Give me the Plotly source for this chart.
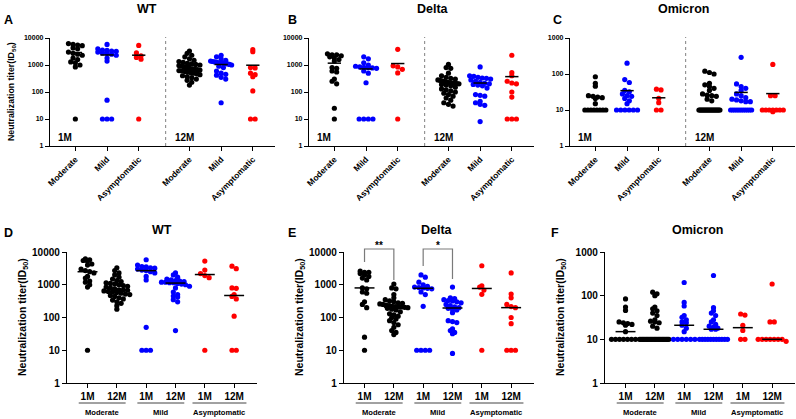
import numpy as np
import plotly.graph_objects as go

# ---------------- data (ID50 titers) ----------------
WT_MOD_1M = [6200, 5800, 5500, 5200, 4300, 4000, 3000, 2700, 2500, 2300, 1800, 1600, 1300, 1200, 1000, 850, 10]
WT_MOD_12M = [3300, 2700, 2300, 2000, 1700, 1500, 1350, 1250, 1150, 1100, 1050, 1000, 950, 900, 850, 800, 750, 700,
              700, 680, 650, 620, 600, 580, 550, 520, 500, 470, 440, 400, 370, 340, 300, 270, 230, 180]
WT_MILD_1M = [5800, 4000, 3600, 3500, 3300, 3200, 3000, 2800, 2700, 2500, 2300, 1800, 1400, 50, 10, 10, 10]
WT_MILD_12M = [2300, 2000, 1700, 1500, 1400, 1350, 1300, 1250, 1200, 1200, 1150, 1150, 1100, 1050, 1000, 900,
               800, 600, 500, 450, 420, 350, 300, 40]
WT_ASYM_1M = [5300, 2800, 2200, 1900, 1650, 10]
WT_ASYM_12M = [3700, 3100, 800, 780, 500, 440, 370, 110, 10, 10]

DELTA_MOD_1M = [2600, 2400, 2400, 2200, 2000, 1800, 1600, 1400, 800, 750, 600, 550, 300, 250, 200, 25, 10]
DELTA_MOD_12M = [1050, 800, 750, 500, 400, 350, 320, 300, 280, 270, 260, 250, 240, 230, 220, 215, 210, 210,
                 205, 200, 190, 180, 170, 150, 130, 120, 110, 100, 90, 80, 70, 60, 50, 40, 35, 30]
DELTA_MILD_1M = [2000, 1700, 1200, 1000, 900, 850, 820, 800, 780, 750, 600, 500, 220, 10, 10, 10, 10]
DELTA_MILD_12M = [850, 400, 380, 350, 330, 320, 300, 280, 250, 230, 210, 200, 190, 180, 170, 140, 80, 75, 70,
                  45, 40, 35, 32, 8]
DELTA_ASYM_1M = [3800, 930, 850, 690, 510, 10]
DELTA_ASYM_12M = [2300, 520, 400, 250, 215, 200, 100, 65, 10, 10, 10]

OMI_MOD_1M = [84, 55, 46, 25, 24, 23, 22, 21, 15, 10, 10, 10, 10, 10, 10, 10, 10]
OMI_MOD_12M = [120, 110, 100, 55, 50, 45, 40, 35, 28, 26, 25, 24, 20, 18] + [10] * 22
OMI_MILD_1M = [200, 70, 58, 35, 32, 28, 25, 24, 21, 18, 15, 10, 10, 10, 10, 10, 10]
OMI_MILD_12M = [290, 53, 45, 40, 35, 28, 25, 22, 20, 19, 18, 17, 17] + [10] * 11
OMI_ASYM_1M = [38, 36, 21, 16, 10, 10]
OMI_ASYM_12M = [185, 25, 25, 10, 10, 10, 10, 10, 10, 10, 9]

GROUPS = ["Moderate", "Mild", "Asymptomatic"]
TIMES = ["1M", "12M"]
VARIANTS = ["WT", "Delta", "Omicron"]
DATA = {
    "WT": [[WT_MOD_1M, WT_MOD_12M], [WT_MILD_1M, WT_MILD_12M], [WT_ASYM_1M, WT_ASYM_12M]],
    "Delta": [[DELTA_MOD_1M, DELTA_MOD_12M], [DELTA_MILD_1M, DELTA_MILD_12M], [DELTA_ASYM_1M, DELTA_ASYM_12M]],
    "Omicron": [[OMI_MOD_1M, OMI_MOD_12M], [OMI_MILD_1M, OMI_MILD_12M], [OMI_ASYM_1M, OMI_ASYM_12M]],
}
COLORS = ["#000000", "#0000ff", "#ff0000"]

# ---------------- layout helpers ----------------
W, H = 796, 419
FONT = "Liberation Sans, Arial, sans-serif"


def PX(x):
    return x / W


def PY(y):
    return 1 - y / H


def swarm(vals, ppd, ppu, d, maxw):
    v = np.asarray(vals, float)
    ypx = np.log10(v) * ppd
    order = np.argsort(-v, kind="stable")
    rows = {}
    for i in order:
        rows.setdefault(int(np.floor(ypx[i] / d + 0.5)), []).append(i)
    off = np.zeros(len(v))
    for idx in rows.values():
        n = len(idx)
        if n < 2:
            continue
        sp = min(d, 2 * maxw / (n - 1))
        for k, i in enumerate(idx):
            off[i] = (k - (n - 1) / 2) * sp
    return off / ppu


TOP_POS = [0, 1, 2, 3.6, 4.6, 5.6]   # 1M: Mod, Mild, Asym | 12M: Mod, Mild, Asym
TOP_RANGE = [-0.8, 6.3]
BOT_POS = [0, 1, 2, 3, 4, 5]         # Mod 1M,12M | Mild 1M,12M | Asym 1M,12M
BOT_RANGE = [-0.7, 5.78]

panels = [
    dict(letter="A", var="WT", top=True, x0=50, x1=275, y0=38, y1=146, dec=4, tx=147, lx=2),
    dict(letter="B", var="Delta", top=True, x0=309, x1=534, y0=38, y1=146, dec=4, tx=433, lx=286),
    dict(letter="C", var="Omicron", top=True, x0=570, x1=795, y0=38, y1=146, dec=3, tx=683, lx=551),
    dict(letter="D", var="WT", top=False, x0=67, x1=257, y0=252, y1=383, dec=4, tx=162, lx=2),
    dict(letter="E", var="Delta", top=False, x0=344, x1=534, y0=252, y1=383, dec=4, tx=437, lx=286),
    dict(letter="F", var="Omicron", top=False, x0=605, x1=795, y0=252, y1=383, dec=3, tx=697, lx=549),
]

fig = go.Figure()
annotations = []
shapes = []
layout = {}

for pi, p in enumerate(panels, start=1):
    xa = "x" if pi == 1 else f"x{pi}"
    ya = "y" if pi == 1 else f"y{pi}"
    xr = TOP_RANGE if p["top"] else BOT_RANGE
    ppu = (p["x1"] - p["x0"]) / (xr[1] - xr[0])
    ppd = (p["y1"] - p["y0"]) / p["dec"]
    groups = DATA[p["var"]]

    if p["top"]:
        items = []
        for t in range(2):
            for g in range(3):
                items.append((groups[g][t], COLORS[g], TOP_POS[t * 3 + g]))
        d, maxw, hw = 4.6, 10.5, 0.21
    else:
        items = []
        for g in range(3):
            for t in range(2):
                items.append((groups[g][t], COLORS[g], BOT_POS[g * 2 + t]))
        d, maxw, hw = 4.3, 14, 0.34

    for vals, col, pos in items:
        off = swarm(vals, ppd, ppu, d, maxw)
        fig.add_trace(go.Scatter(
            x=pos + off, y=vals, mode="markers", xaxis=xa, yaxis=ya,
            marker=dict(size=5.2, color=col, line=dict(width=0)),
            showlegend=False, hoverinfo="y", cliponaxis=False))
    for vals, col, pos in items:
        stat = float(np.mean(vals)) if p["top"] else float(np.median(vals))
        fig.add_trace(go.Scatter(
            x=[pos - hw, pos + hw], y=[stat, stat], mode="lines", xaxis=xa, yaxis=ya,
            line=dict(color="#000000", width=1.5), showlegend=False, hoverinfo="skip"))

    tickv = [10 ** k for k in range(p["dec"] + 1)]
    ytf = 7 if p["top"] else 10
    layout["xaxis" if pi == 1 else f"xaxis{pi}"] = dict(
        domain=[PX(p["x0"]), PX(p["x1"])], range=xr, anchor=ya, automargin=False,
        showgrid=False, zeroline=False, showline=True, linecolor="#000", linewidth=1.3,
        ticks="outside", ticklen=4, tickwidth=1, tickcolor="#000",
        tickvals=TOP_POS if p["top"] else BOT_POS,
        ticktext=(GROUPS + GROUPS) if p["top"] else TIMES * 3,
        tickangle=-45 if p["top"] else 0,
        tickfont=dict(family=FONT, size=8.5 if p["top"] else 10, color="#000", weight="bold"),
        fixedrange=True)
    layout["yaxis" if pi == 1 else f"yaxis{pi}"] = dict(
        domain=[PY(p["y1"]), PY(p["y0"])], type="log", range=[0, p["dec"]], anchor=xa,
        automargin=False, showgrid=False, zeroline=False, showline=True, linecolor="#000",
        linewidth=1.3, ticks="outside", ticklen=4, tickwidth=1, tickcolor="#000",
        tickvals=tickv, ticktext=[str(v) for v in tickv],
        tickfont=dict(family=FONT, size=ytf, color="#000", weight="bold"), fixedrange=True)

    # titles and panel letters
    ty = 9 if p["top"] else 230
    annotations.append(dict(text=f"<b>{p['var']}</b>", x=PX(p["tx"]), y=PY(ty), xref="paper", yref="paper",
                            showarrow=False, font=dict(family=FONT, size=12.5, color="#000"),
                            xanchor="center", yanchor="middle"))
    ly = 20 if p["top"] else 233
    annotations.append(dict(text=f"<b>{p['letter']}</b>", x=PX(p["lx"]), y=PY(ly), xref="paper", yref="paper",
                            showarrow=False, font=dict(family=FONT, size=12.5, color="#000"),
                            xanchor="left", yanchor="middle"))

    if p["top"]:
        sep = 2.85
        shapes.append(dict(type="line", xref=xa, yref="paper", x0=sep, x1=sep,
                           y0=PY(p["y1"]), y1=PY(p["y0"] - 1),
                           line=dict(color="#808080", width=1, dash="dot")))
        sep_px = p["x0"] + (sep - xr[0]) * ppu
        for txt, xx in (("1M", p["x0"] + 6), ("12M", sep_px + 7)):
            annotations.append(dict(text=f"<b>{txt}</b>", x=PX(xx), y=PY(137.5), xref="paper", yref="paper",
                                    showarrow=False, font=dict(family=FONT, size=10, color="#000"),
                                    xanchor="left", yanchor="middle"))
        if pi == 1:
            annotations.append(dict(text="<b>Neutralization titer(ID<sub>50</sub>)</b>", x=PX(11), y=PY(92),
                                    xref="paper", yref="paper", showarrow=False, textangle=-90,
                                    font=dict(family=FONT, size=8.8, color="#000"),
                                    xanchor="center", yanchor="middle"))
    else:
        for g in range(3):
            a, b = BOT_POS[g * 2], BOT_POS[g * 2 + 1]
            ext = 0.42 if g == 2 else 0.3
            shapes.append(dict(type="line", xref=xa, yref="paper", x0=a - ext, x1=b + ext,
                               y0=PY(403), y1=PY(403), line=dict(color="#444", width=1)))
            annotations.append(dict(text=f"<b>{GROUPS[g]}</b>", x=(a + b) / 2, y=PY(412), xref=xa, yref="paper",
                                    showarrow=False, font=dict(family=FONT, size=7.6, color="#000"),
                                    xanchor="center", yanchor="middle"))
        annotations.append(dict(text="<b>Neutralization titer(ID<sub>50</sub>)</b>", x=PX(p["x0"] - 44),
                                y=PY(317), xref="paper", yref="paper", showarrow=False, textangle=-90,
                                font=dict(family=FONT, size=10.5, color="#000"),
                                xanchor="center", yanchor="middle"))
        if p["letter"] == "E":
            for (a, b, la, lb, star) in ((0, 1, 262, 280, "**"), (2, 3, 266, 279, "*")):
                shapes.append(dict(type="path", xref=xa, yref="paper",
                                   path=f"M {a},{PY(la)} L {a},{PY(249)} L {b},{PY(249)} L {b},{PY(lb)}",
                                   line=dict(color="#7a7a7a", width=1.2)))
                annotations.append(dict(text=f"<b>{star}</b>", x=(a + b) / 2, y=PY(245), xref=xa, yref="paper",
                                        showarrow=False, font=dict(family=FONT, size=10, color="#000"),
                                        xanchor="center", yanchor="middle"))

fig.update_layout(
    width=W, height=H, margin=dict(l=0, r=0, t=0, b=0),
    paper_bgcolor="#ffffff", plot_bgcolor="#ffffff", showlegend=False,
    annotations=annotations, shapes=shapes, **layout)

fig.write_html("out.html", config={"displayModeBar": False},
               post_script="document.body.style.margin='0';document.body.style.overflow='hidden';")
